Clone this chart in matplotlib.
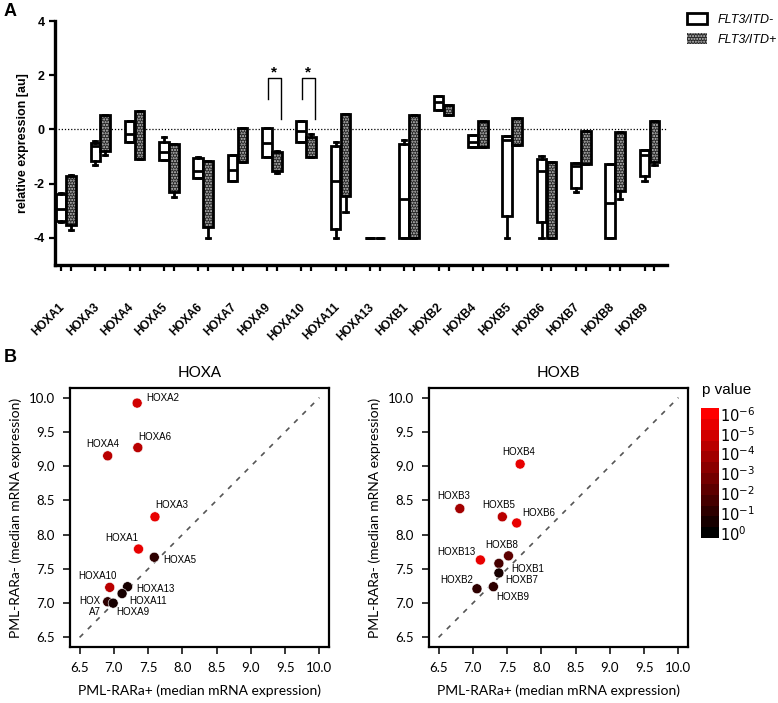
import numpy as np
import matplotlib.pyplot as plt
from matplotlib.patches import Patch, PathPatch
from matplotlib.colors import LinearSegmentedColormap, Normalize
from matplotlib.transforms import ScaledTranslation

# ---- panel A data: box stats (whislo, q1, med, q3, whishi) ----
genes = ['HOXA1', 'HOXA3', 'HOXA4', 'HOXA5', 'HOXA6', 'HOXA7', 'HOXA9', 'HOXA10',
         'HOXA11', 'HOXA13', 'HOXB1', 'HOXB2', 'HOXB4', 'HOXB5', 'HOXB6', 'HOXB7',
         'HOXB8', 'HOXB9']

itd_neg = [
    (-3.40, -3.38, -2.93, -2.38, -2.33),
    (-1.30, -1.15, -0.60, -0.50, -0.42),
    (-0.45, -0.45, -0.15, 0.32, 0.32),
    (-1.14, -1.14, -0.85, -0.45, -0.29),
    (-1.78, -1.78, -1.54, -1.05, -1.02),
    (-1.90, -1.90, -1.48, -0.95, -0.93),
    (-1.00, -1.00, -0.50, 0.06, 0.06),
    (-0.48, -0.48, -0.05, 0.32, 0.32),
    (-4.00, -3.66, -1.90, -0.60, -0.45),
    (-4.00, -4.00, -4.00, -4.00, -4.00),
    (-4.00, -4.00, -2.57, -0.53, -0.39),
    (0.73, 0.73, 1.00, 1.25, 1.25),
    (-0.65, -0.65, -0.45, -0.20, -0.20),
    (-4.00, -3.18, -0.39, -0.24, -0.24),
    (-4.00, -3.42, -1.54, -1.09, -0.97),
    (-2.30, -2.15, -1.36, -1.24, -1.24),
    (-4.00, -4.00, -2.72, -1.26, -1.26),
    (-1.90, -1.70, -0.93, -0.75, -0.75),
]
itd_pos = [
    (-3.72, -3.52, -2.60, -1.70, -1.68),
    (-0.93, -0.80, 0.00, 0.55, 0.55),
    (-1.09, -1.09, -0.20, 0.67, 0.67),
    (-2.50, -2.30, -1.20, -0.55, -0.55),
    (-4.00, -3.58, -2.00, -1.18, -1.18),
    (-1.20, -1.20, -0.60, 0.04, 0.04),
    (-1.60, -1.55, -1.10, -0.83, -0.81),
    (-1.00, -1.00, -0.50, -0.27, -0.15),
    (-3.05, -2.47, -0.50, 0.58, 0.58),
    (-4.00, -4.00, -4.00, -4.00, -4.00),
    (-4.00, -4.00, -1.50, 0.55, 0.55),
    (0.52, 0.52, 0.75, 0.92, 0.92),
    (-0.65, -0.65, -0.20, 0.32, 0.32),
    (-0.57, -0.57, 0.00, 0.44, 0.44),
    (-4.00, -4.00, -2.00, -1.21, -1.21),
    (-1.26, -1.26, -0.70, -0.05, -0.05),
    (-2.57, -2.27, -1.00, -0.08, -0.08),
    (-1.30, -1.21, -0.50, 0.30, 0.30),
]
sig_genes = ['HOXA9', 'HOXA10']
sig_left = [1.13, 1.13]
sig_top = [1.88, 1.88]
sig_right = [0.40, 0.40]

# ---- panel B data ----
hoxa_names = ['HOXA2', 'HOXA6', 'HOXA4', 'HOXA3', 'HOXA1', 'HOXA5', 'HOXA10',
              'HOXA13', 'HOXA11', 'HOX\nA7', 'HOXA9']
hoxa_pos = [7.34, 7.35, 6.91, 7.60, 7.36, 7.59, 6.94, 7.20, 7.12, 6.91, 6.99]
hoxa_neg = [9.92, 9.27, 9.15, 8.26, 7.79, 7.67, 7.23, 7.24, 7.14, 7.02, 7.00]
hoxa_logp = [4.8, 4.2, 4.6, 5.3, 5.3, 1.2, 4.4, 0.3, 0.3, 0.9, 0.8]

hoxb_names = ['HOXB4', 'HOXB3', 'HOXB5', 'HOXB6', 'HOXB8', 'HOXB13', 'HOXB1',
              'HOXB7', 'HOXB2', 'HOXB9']
hoxb_pos = [7.69, 6.81, 7.43, 7.64, 7.52, 7.11, 7.38, 7.38, 7.06, 7.30]
hoxb_neg = [9.03, 8.38, 8.26, 8.17, 7.69, 7.63, 7.58, 7.44, 7.21, 7.24]
hoxb_logp = [5.3, 3.8, 4.3, 5.4, 2.0, 5.6, 1.4, 0.4, 1.0, 1.0]

pexp = [0, 1, 2, 3, 4, 5, 6]

# label offsets in pixels (dx, dy, ha)
hoxa_off = [(9, 5, 'left'), (17, 11, 'center'), (-5, 12, 'center'), (17, 12, 'center'),
            (-17, 11, 'center'), (9, -3, 'left'), (-12, 11, 'center'), (9, -2, 'left'),
            (7, -7, 'left'), (-7, -5, 'right'), (3, -9, 'left')]
hoxb_off = [(-1, 12, 'center'), (-6, 13, 'center'), (-4, 12, 'center'), (6, 10, 'left'),
            (-7, 11, 'center'), (-24, 8, 'center'), (12, -6, 'left'), (6, -7, 'left'),
            (-20, 9, 'center'), (19, -10, 'center')]

plt.rcParams['font.family'] = ['Liberation Sans', 'DejaVu Sans']
fig = plt.figure(figsize=(7.78, 7.03), dpi=100)
W, H = 778, 703


def px_axes(x0, y0, x1, y1):
    return fig.add_axes([x0 / W, 1 - y1 / H, (x1 - x0) / W, (y1 - y0) / H])


# ================= panel A =================
ax = px_axes(55, 21, 667, 265)
centers = np.arange(len(genes))
off = 0.145
lw = 2.0
dark = '#262626'
dots = '#c8c8c8'


def stats(rows):
    return [dict(whislo=r[0], q1=r[1], med=r[2], q3=r[3], whishi=r[4], fliers=[]) for r in rows]


common = dict(widths=0.28, capwidths=0.12, patch_artist=True, showfliers=False,
              whiskerprops=dict(lw=lw, color='black'),
              capprops=dict(lw=lw, color='black'),
              medianprops=dict(lw=lw, color='black'))
ax.bxp(stats(itd_neg), positions=centers - off,
       boxprops=dict(lw=lw, edgecolor='black', facecolor='white'), **common)
b2 = ax.bxp(stats(itd_pos), positions=centers + off,
            boxprops=dict(lw=0, edgecolor=dots, facecolor=dark, hatch='......'), **common)
for p in b2['boxes']:
    ax.add_patch(PathPatch(p.get_path(), fill=False, edgecolor='black', lw=lw, zorder=p.get_zorder()))
for m in b2['medians']:
    m.set_visible(False)

ax.axhline(0, color='black', lw=0.9, ls=(0, (1, 1.5)), zorder=0)

for g, yl, yt, yr in zip(sig_genes, sig_left, sig_top, sig_right):
    c = genes.index(g)
    ax.plot([c - 0.12, c - 0.12, c + 0.26, c + 0.26], [yl, yt, yt, yr], color='black', lw=1.0)
    ax.text(c + 0.06, yt - 0.05, '*', ha='center', va='bottom', fontsize=11, fontweight='bold')

ax.set_xlim(-0.32, len(genes) - 0.49)
ax.set_ylim(-5, 4)
ax.set_yticks([-4, -2, 0, 2, 4])
ax.set_yticklabels(['-4', '-2', '0', '2', '4'], fontweight='bold', fontsize=9)
ax.set_xticks(np.sort(np.concatenate([centers - off, centers + off])))
ax.set_xticklabels([])
ax.set_xticks(centers, minor=True)
ax.set_xticklabels(genes, minor=True, rotation=45, ha='right', rotation_mode='anchor',
                   fontweight='bold', fontsize=8.5)
ax.tick_params(axis='x', which='minor', length=0, pad=26)
ax.tick_params(axis='x', which='major', length=4, width=1.6)
ax.tick_params(axis='y', length=4, width=1.6)
for lab in ax.get_xticklabels(minor=True):
    lab.set_transform(lab.get_transform() + ScaledTranslation(-0.07, 0, fig.dpi_scale_trans))
for s in ['top', 'right']:
    ax.spines[s].set_visible(False)
for s in ['left', 'bottom']:
    ax.spines[s].set_linewidth(2.4)
ax.set_ylabel('relative expression [au]', fontweight='bold', fontsize=9, labelpad=3)

fig.legend(handles=[Patch(facecolor='white', edgecolor='black', lw=2.0, label='FLT3/ITD-'),
                    Patch(facecolor=dark, edgecolor=dots, lw=0, hatch='......',
                          label='FLT3/ITD+')],
           loc='upper left', bbox_to_anchor=(676 / W, 1 - 2 / H), frameon=False,
           prop=dict(style='italic', size=9), handlelength=1.6, handleheight=0.9,
           labelspacing=0.6, handletextpad=0.8)

fig.text(4 / W, 1 - 12 / H, 'A', fontsize=13, fontweight='bold', va='center')
fig.text(4 / W, 1 - 358 / H, 'B', fontsize=13, fontweight='bold', va='center')

# ================= panel B =================
cmap = LinearSegmentedColormap.from_list('pv', ['#000000', '#ff0000'], N=12)
norm = Normalize(vmin=-0.25, vmax=6.3)


def scatter_panel(a, names, xs, ys, lp, offs, title):
    a.plot([6.5, 10], [6.5, 10], color='#555555', lw=1.2, ls=(0, (3, 4)), zorder=1)
    a.scatter(xs, ys, c=lp, cmap=cmap, norm=norm, s=52, edgecolors='#ffffff', linewidths=0.4,
              zorder=3)
    for n, x, y, (dx, dy, ha) in zip(names, xs, ys, offs):
        a.annotate(n, (x, y), xytext=(dx * 0.72, dy * 0.72), textcoords='offset points',
                   ha=ha, va='center', fontsize=7, multialignment='right', linespacing=1.1,
                   zorder=4)
    a.set_xlim(6.36, 10.14)
    a.set_ylim(6.36, 10.14)
    t = np.arange(6.5, 10.01, 0.5)
    a.set_xticks(t)
    a.set_yticks(t)
    a.set_xticklabels([f'{v:.1f}' for v in t], family='Lato', fontsize=9.5)
    a.set_yticklabels([f'{v:.1f}' for v in t], family='Lato', fontsize=9.5)
    a.tick_params(direction='out', length=5, width=1.1, pad=6)
    for s in a.spines.values():
        s.set_linewidth(1.6)
    a.set_title(title, family='Lato', fontsize=11, pad=8)
    a.set_xlabel('PML-RARa+ (median mRNA expression)', family='Lato', fontsize=10, labelpad=7)
    a.set_ylabel('PML-RARa- (median mRNA expression)', family='Lato', fontsize=10, labelpad=5)


axa = px_axes(70, 388, 329, 647)
scatter_panel(axa, hoxa_names, hoxa_pos, hoxa_neg, hoxa_logp, hoxa_off, 'HOXA')
axb = px_axes(429, 388, 688, 647)
scatter_panel(axb, hoxb_names, hoxb_pos, hoxb_neg, hoxb_logp, hoxb_off, 'HOXB')

cax = px_axes(701, 408, 719, 538)
sm = plt.cm.ScalarMappable(norm=norm, cmap=cmap)
cb = fig.colorbar(sm, cax=cax)
cb.outline.set_visible(False)
cb.set_ticks(pexp)
cb.set_ticklabels([f'$10^{{{-k}}}$' if k else '$10^{0}$' for k in pexp])
cax.tick_params(length=0, labelsize=10.5, pad=1)
fig.text(702 / W, 1 - 390 / H, 'p value', fontsize=11, va='center')

fig.savefig('out.png', dpi=100)
